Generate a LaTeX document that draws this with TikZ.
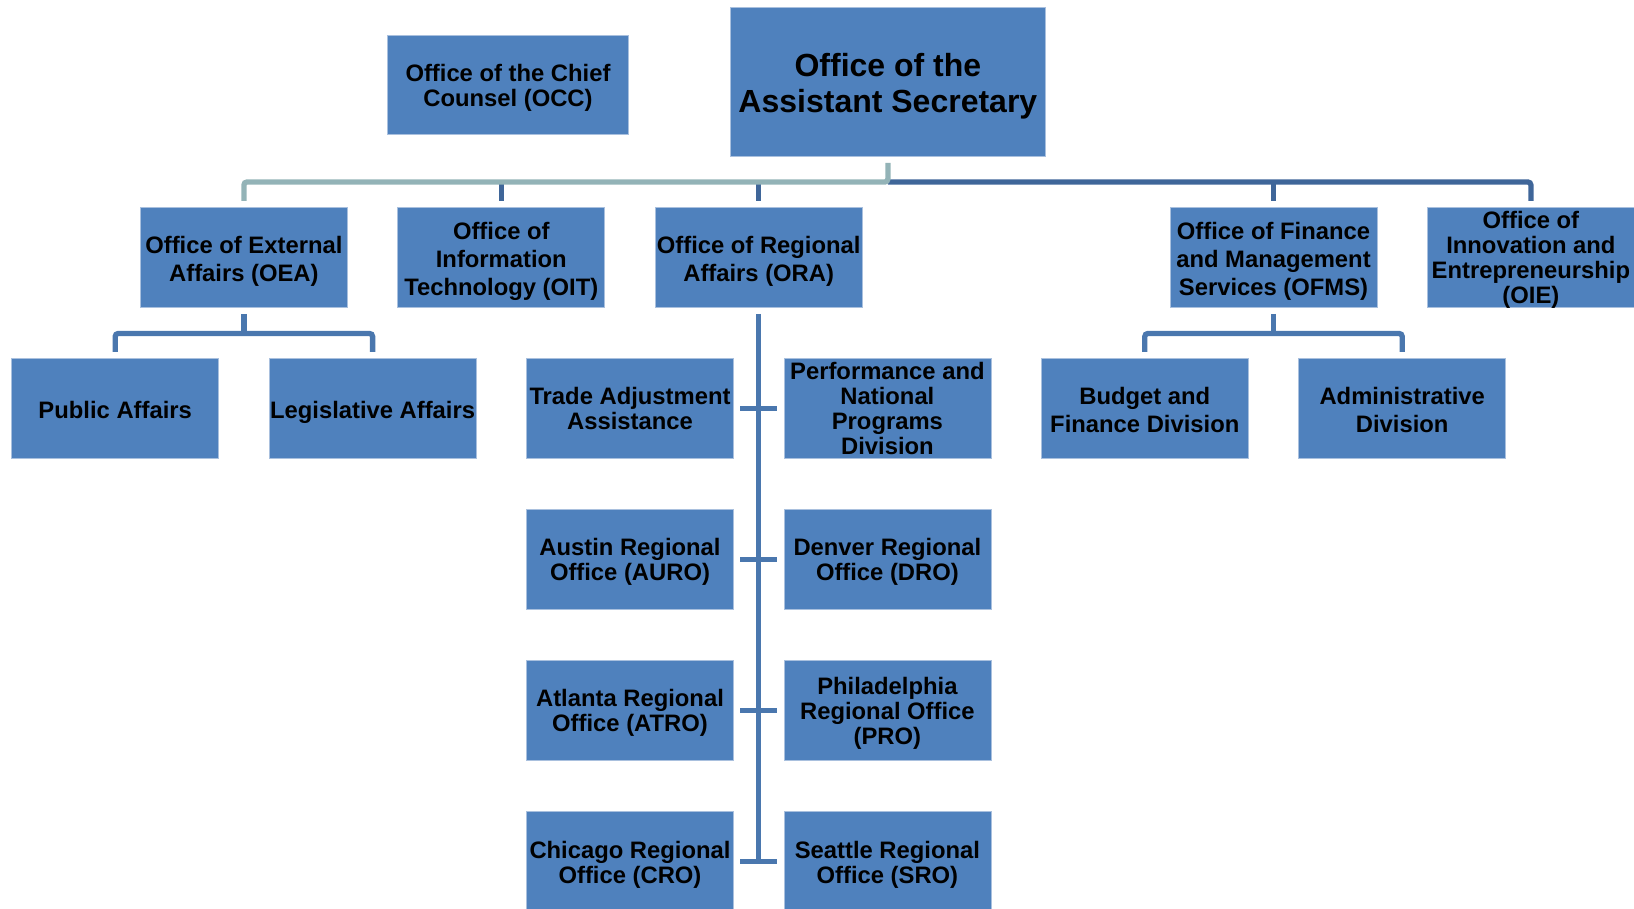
\documentclass[tikz,border=0pt]{standalone}
\usepackage{fontspec}
\setmainfont{Liberation Sans}
\usetikzlibrary{calc}
\definecolor{boxblue}{HTML}{4F81BD}
\definecolor{boxedge}{HTML}{A9C0DE}
\definecolor{graylink}{HTML}{93B3B7}
\definecolor{darklink}{HTML}{3F6699}
\definecolor{sublink}{HTML}{4A77AE}
\newcommand{\sN}{\rule[-5pt]{0pt}{30.8pt}}
\newcommand{\sF}{\rule[-5pt]{0pt}{27.4pt}}
\newcommand{\sT}{\rule[-7pt]{0pt}{39.1pt}}
\begin{document}
\begin{tikzpicture}[x=1pt,y=-1pt,
  orgbox/.style={draw=boxedge, line width=0.8pt, fill=boxblue, minimum width=207pt,
    minimum height=100pt, inner xsep=0pt, inner ysep=-5pt, align=center, outer sep=6.5pt,
    font=\bfseries\fontsize{23.8}{28}\selectfont,
    execute at begin node={\lineskiplimit=-100pt\relax\lineskip=0pt\relax}},
  fourline/.style={font=\bfseries\fontsize{23.8}{25}\selectfont},
  topbox/.style={minimum width=314.8pt, minimum height=149pt,
    font=\bfseries\fontsize{32}{36.5}\selectfont},
  link/.style={line width=5.3pt, rounded corners=3pt},
  graylinkst/.style={link, draw=graylink},
  darklinkst/.style={link, draw=darklink},
  sublinkst/.style={link, draw=sublink}]
\useasboundingbox (0,0) rectangle (1634,909);
\clip (0,0) rectangle (1634,909);
% top
\node[orgbox, topbox] (oas) at (887.9,81.8) {\sT Office of the\\Assistant Secretary\sT};
\node[orgbox, minimum width=240.7pt, minimum height=99pt, fourline] (occ) at (508,84.9) {\sF Office of the Chief\\Counsel (OCC)\sF};
% row 2
\node[orgbox] (oea) at (243.9,257.4) {\sN Office of External\\Affairs (OEA)\sN};
\node[orgbox] (oit) at (501.3,257.4) {\sN Office of\\Information\\Technology (OIT)\sN};
\node[orgbox] (ora) at (758.7,257.4) {\sN Office of Regional\\Affairs (ORA)\sN};
\node[orgbox] (ofms) at (1273.5,257.4) {\sN Office of Finance\\and Management\\Services (OFMS)\sN};
\node[orgbox, fourline] (oie) at (1530.9,257.4) {\sF Office of\\Innovation and\\Entrepreneurship\\(OIE)\sF};
% row 3
\node[orgbox] (pa) at (115.2,408.5) {\sN Public Affairs\sN};
\node[orgbox] (la) at (372.6,408.5) {\sN Legislative Affairs\sN};
\node[orgbox, fourline] (taa) at (630,408.5) {\sF Trade Adjustment\\Assistance\sF};
\node[orgbox, fourline] (pnpd) at (887.4,408.5) {\sF Performance and\\National\\Programs\\Division\sF};
\node[orgbox] (bfd) at (1144.8,408.5) {\sN Budget and\\Finance Division\sN};
\node[orgbox] (adm) at (1402.2,408.5) {\sN Administrative\\Division\sN};
% row 4
\node[orgbox, fourline] (auro) at (630,559.6) {\sF Austin Regional\\Office (AURO)\sF};
\node[orgbox, fourline] (dro) at (887.4,559.6) {\sF Denver Regional\\Office (DRO)\sF};
% row 5
\node[orgbox, fourline] (atro) at (630,710.7) {\sF Atlanta Regional\\Office (ATRO)\sF};
\node[orgbox, fourline] (pro) at (887.4,710.7) {\sF Philadelphia\\Regional Office\\(PRO)\sF};
% row 6
\node[orgbox, fourline] (cro) at (630,861.8) {\sF Chicago Regional\\Office (CRO)\sF};
\node[orgbox, fourline] (sro) at (887.4,861.8) {\sF Seattle Regional\\Office (SRO)\sF};
% top bus
\coordinate (bus) at (887.9,182);
\draw[darklinkst] (bus) -| (oie.north);
\draw[darklinkst] (oit.north) -- (oit.north |- bus);
\draw[darklinkst] (ora.north) -- (ora.north |- bus);
\draw[darklinkst] (ofms.north) -- (ofms.north |- bus);
\draw[graylinkst] (oas.south) -- (bus) -| (oea.north);
% OEA
\coordinate (oeabus) at (243.9,333.5);
\draw[sublinkst] (oea.south) -- (oeabus);
\draw[sublinkst] (pa.north) |- (oeabus) -| (la.north);
% OFMS
\coordinate (ofmsbus) at (1273.5,333.5);
\draw[sublinkst] (ofms.south) -- (ofmsbus);
\draw[sublinkst] (bfd.north) |- (ofmsbus) -| (adm.north);
% ORA
\draw[sublinkst] (ora.south) -- (ora.south |- cro.center);
\draw[sublinkst] (taa.east) -- (pnpd.west);
\draw[sublinkst] (auro.east) -- (dro.west);
\draw[sublinkst] (atro.east) -- (pro.west);
\draw[sublinkst] (cro.east) -- (sro.west);
\end{tikzpicture}
\end{document}
